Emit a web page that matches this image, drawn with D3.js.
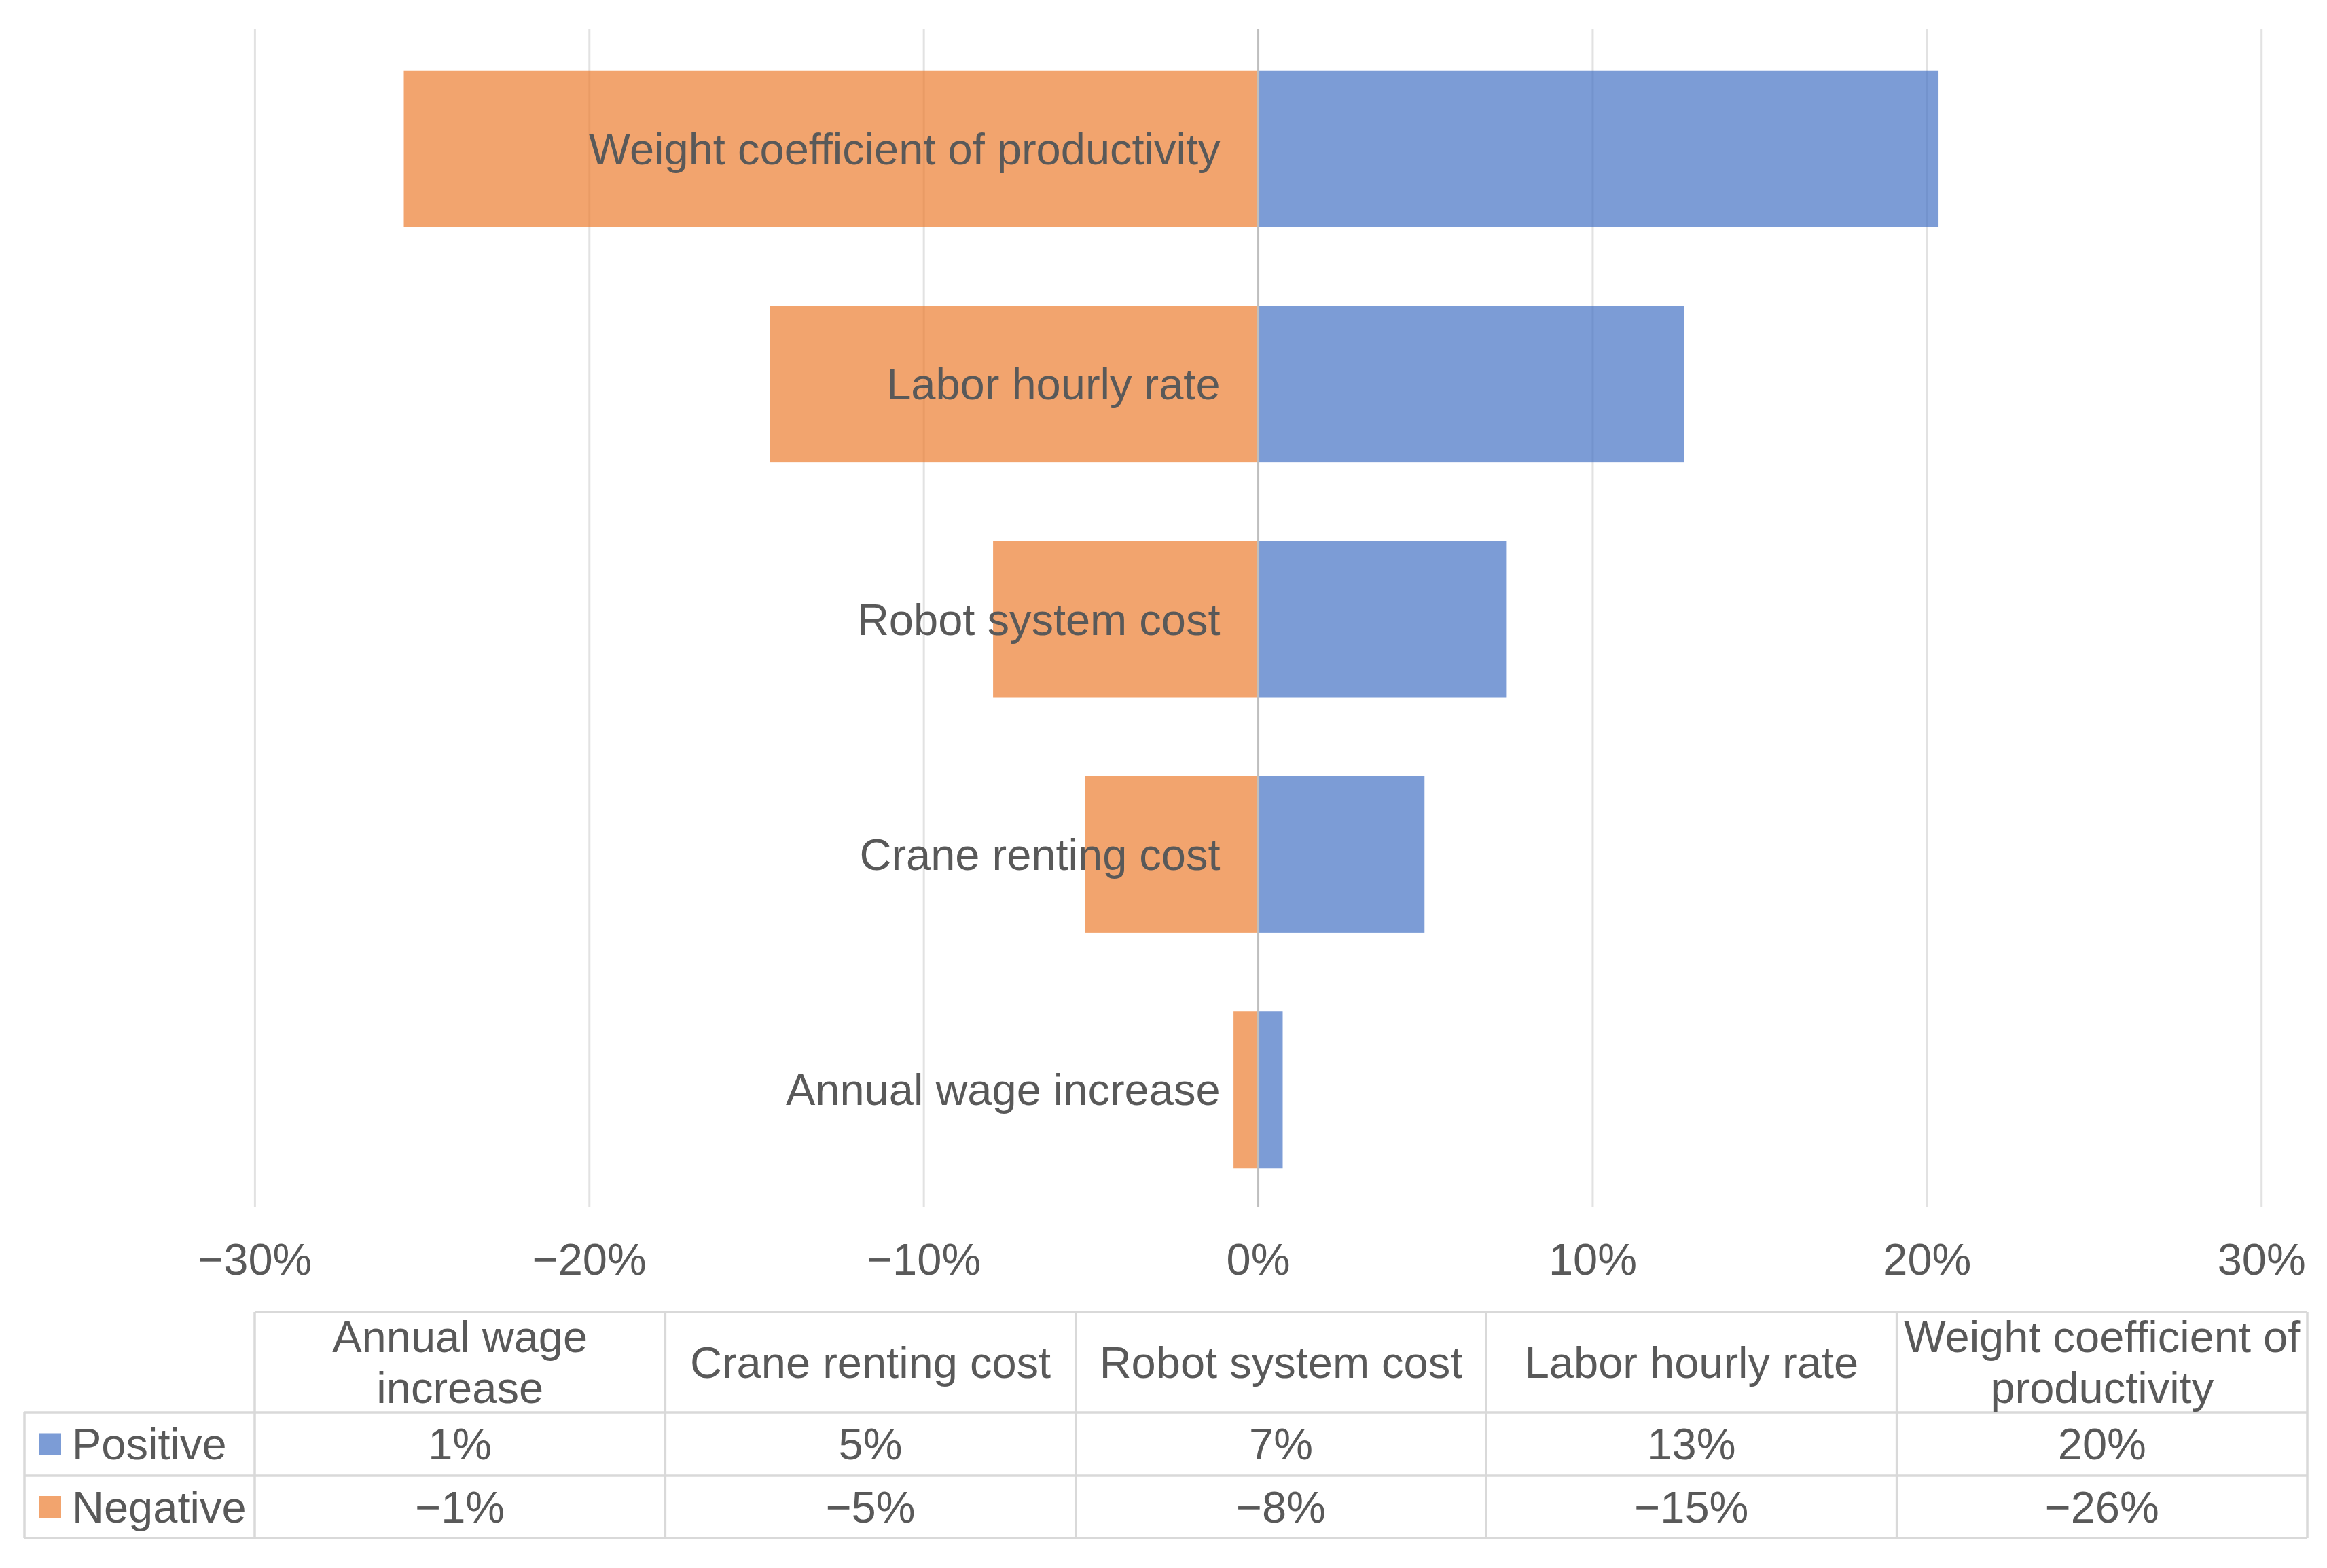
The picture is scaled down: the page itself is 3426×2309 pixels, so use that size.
<!DOCTYPE html>
<html>
<head>
<meta charset="utf-8">
<script src="https://cdn.jsdelivr.net/npm/d3@7"></script>
<style>
  html, body { margin: 0; padding: 0; background: #fff; }
  svg { display: block; }
  text { font-family: "Liberation Sans", Arial, sans-serif; fill: #595959; }
</style>
</head>
<body>
<svg id="chart" width="3426" height="2309"></svg>
<script>
// ---- data ----
const categories = ["Annual wage increase", "Crane renting cost", "Robot system cost", "Labor hourly rate", "Weight coefficient of productivity"];
const headerLines = [["Annual wage", "increase"], ["Crane renting cost"], ["Robot system cost"], ["Labor hourly rate"], ["Weight coefficient of", "productivity"]];
const positiveValues = [0.0073, 0.0497, 0.0741, 0.1274, 0.2034];
const negativeValues = [-0.0074, -0.0518, -0.0793, -0.146, -0.2555];
const seriesNames = ["Positive", "Negative"];
const seriesColors = ["#4472C4", "#ED7D31"];
const xTicks = [-0.3, -0.2, -0.1, 0, 0.1, 0.2, 0.3];

// ---- layout ----
const svg = d3.select("#chart");
const FONT = 65;
const plotTop = 46, plotBottom = 1778;
const x = d3.scaleLinear().domain([-0.3, 0.3]).range([375.4, 3329.7]);
const yOrder = categories.slice().reverse(); // top-to-bottom
const y = d3.scaleBand().domain(yOrder).range([plotTop, plotBottom]).paddingInner(0.333).paddingOuter(0.1667);
const pct = d3.format(".0%");

// gridlines
svg.append("g").selectAll("line").data(xTicks.filter(d => d !== 0)).join("line")
  .attr("x1", d => x(d)).attr("x2", d => x(d))
  .attr("y1", 43).attr("y2", 1777)
  .attr("stroke", "#e2e2e2").attr("stroke-width", 3);

// bars
const rows = categories.map((c, i) => ({c, pos: positiveValues[i], neg: negativeValues[i]}));
const gBars = svg.append("g");
gBars.selectAll("rect.neg").data(rows).join("rect").attr("class", "neg")
  .attr("x", d => x(d.neg)).attr("width", d => x(0) - x(d.neg))
  .attr("y", d => y(d.c)).attr("height", y.bandwidth())
  .attr("fill", seriesColors[1]).attr("fill-opacity", 0.7);
gBars.selectAll("rect.pos").data(rows).join("rect").attr("class", "pos")
  .attr("x", x(0)).attr("width", d => x(d.pos) - x(0))
  .attr("y", d => y(d.c)).attr("height", y.bandwidth())
  .attr("fill", seriesColors[0]).attr("fill-opacity", 0.7);

// zero axis line
svg.append("line").attr("x1", x(0)).attr("x2", x(0)).attr("y1", 43).attr("y2", 1777)
  .attr("stroke", "#bfbfbf").attr("stroke-width", 3);

// category labels (vertical axis labels)
svg.append("g").selectAll("text").data(categories).join("text")
  .attr("x", x(0) - 56).attr("y", d => y(d) + y.bandwidth() / 2).attr("dy", "0.35em")
  .attr("text-anchor", "end").attr("font-size", FONT).text(d => d);

// x tick labels
svg.append("g").selectAll("text").data(xTicks).join("text")
  .attr("x", d => x(d)).attr("y", 1877).attr("text-anchor", "middle")
  .attr("font-size", FONT).text(d => pct(d));

// ---- data table ----
const tLeft = 36, tColStart = 375, tRight = 3397;
const tTop = 1932, tHeadBottom = 2080, tRow1Bottom = 2173, tBottom = 2265;
const col = d3.scaleBand().domain(categories).range([tColStart, tRight]);
const gT = svg.append("g");
const lineAttr = sel => sel.attr("stroke", "#d9d9d9").attr("stroke-width", 3.5).attr("fill", "none");

// horizontal lines
gT.append("line").attr("x1", tColStart).attr("x2", tRight).attr("y1", tTop).attr("y2", tTop).call(lineAttr);
[tHeadBottom, tRow1Bottom, tBottom].forEach(yy =>
  gT.append("line").attr("x1", tLeft).attr("x2", tRight).attr("y1", yy).attr("y2", yy).call(lineAttr));
// vertical lines
gT.append("line").attr("x1", tLeft).attr("x2", tLeft).attr("y1", tHeadBottom).attr("y2", tBottom).call(lineAttr);
const vXs = categories.map(c => col(c)).concat([tRight]);
gT.selectAll("line.v").data(vXs).join("line").attr("class", "v")
  .attr("x1", d => d).attr("x2", d => d).attr("y1", tTop).attr("y2", tBottom).call(lineAttr);

// header text
const headCenter = (tTop + tHeadBottom) / 2;
categories.forEach((c, i) => {
  const lines = headerLines[i];
  const lh = 75;
  lines.forEach((ln, j) => {
    gT.append("text")
      .attr("x", col(c) + col.bandwidth() / 2)
      .attr("y", headCenter + (j - (lines.length - 1) / 2) * lh)
      .attr("dy", "0.35em").attr("text-anchor", "middle").attr("font-size", FONT).text(ln);
  });
});

// series rows
const rowCenters = [(tHeadBottom + tRow1Bottom) / 2, (tRow1Bottom + tBottom) / 2];
const seriesValues = [positiveValues, negativeValues];
seriesNames.forEach((s, k) => {
  gT.append("rect").attr("x", 57).attr("y", rowCenters[k] - 16).attr("width", 33).attr("height", 32)
    .attr("fill", seriesColors[k]).attr("fill-opacity", 0.7);
  gT.append("text").attr("x", 106).attr("y", rowCenters[k]).attr("dy", "0.35em")
    .attr("font-size", FONT).text(s);
  gT.selectAll(null).data(categories).join("text")
    .attr("x", c => col(c) + col.bandwidth() / 2).attr("y", rowCenters[k]).attr("dy", "0.35em")
    .attr("text-anchor", "middle").attr("font-size", FONT)
    .text((c, i) => pct(seriesValues[k][i]));
});
</script>
</body>
</html>
